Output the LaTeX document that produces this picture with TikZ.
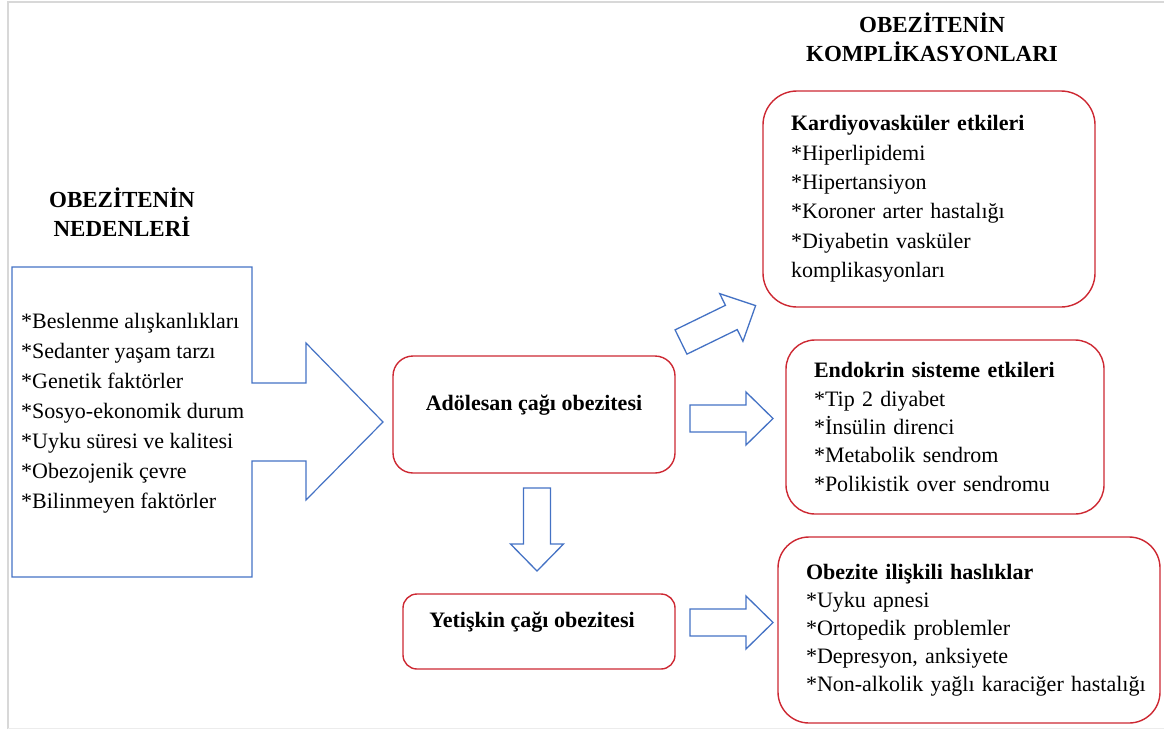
\documentclass[tikz,border=0pt]{standalone}
\usepackage{fontspec}
\setmainfont{Liberation Serif}
\definecolor{boxred}{RGB}{205,40,50}
\definecolor{arrowblue}{RGB}{68,114,196}
\definecolor{framegray}{RGB}{216,216,216}
\tikzset{
  pics/blockarrow/.style={code={
    \draw[arrowblue, line width=1.3pt, line join=miter]
      (0,-13.5) -- (56,-13.5) -- (56,-26.5) -- (83,0) -- (56,26.5) -- (56,13.5) -- (0,13.5) -- cycle;
  }}
}
\begin{document}
\begin{tikzpicture}[x=1pt, y=-1pt,
    heading/.style={font=\bfseries\fontsize{23}{29.5}\selectfont, align=center, inner sep=0pt, anchor=north},
    listtext/.style={font=\fontsize{22}{30}\selectfont, align=left, inner sep=0pt, anchor=north west},
    redbox/.style={draw=boxred, line width=1.4pt, align=left, inner ysep=0pt, inner xsep=28pt},
    stagebox/.style={draw=boxred, line width=1.4pt, font=\bfseries\fontsize{22}{26}\selectfont,
      text height=15pt, text depth=24pt, inner sep=0pt}]
    \useasboundingbox (0,0) rectangle (1164,729);
    % frame
    \draw[framegray, line width=2pt] (7.5,729) -- (7.5,1.5) -- (1164,1.5);
    \draw[framegray!50, line width=1pt] (7.5,728.5) -- (1164,728.5);

    % Headings
    \node[heading] (causeshead) at (122,186.3) {\strut OBEZİTENİN\\NEDENLERİ};
    \node[heading] (complhead) at (932,11.3) {\strut OBEZİTENİN\\KOMPLİKASYONLARI};

    % Causes (callout arrow)
    \draw[arrowblue, line width=1.2pt, line join=miter] (12,267) -- (252,267) -- (252,383) -- (306,383)
      -- (306,343) -- (383,422) -- (306,500) -- (306,461) -- (252,461) -- (252,577) -- (12,577) -- cycle;
    \node[listtext] (causes) at (21,307) {\strut*Beslenme alışkanlıkları\\{}*Sedanter yaşam tarzı\\{}*Genetik faktörler\\
      {}*Sosyo-ekonomik durum\\{}*Uyku süresi ve kalitesi\\{}*Obezojenik çevre\\{}*Bilinmeyen faktörler};

    % Stages
    \node[stagebox, rounded corners=20pt, minimum width=282pt, minimum height=117pt] (adol) at (534,414.5) {Adölesan çağı obezitesi};
    \node[stagebox, rounded corners=14pt, minimum width=272pt, minimum height=75pt] (adult) at (539,631.5) {Yetişkin çağı obezitesi\hspace*{14pt}};

    % Complications
    \node[redbox, rounded corners=34pt, minimum width=332pt, minimum height=216pt, text width=276pt,
      font=\fontsize{22}{29.4}\selectfont] (cardio) at (929,199)
      {\textbf{Kardiyovasküler etkileri}\\{}*Hiperlipidemi\\{}*Hipertansiyon\\{}*Koroner arter hastalığı\\{}*Diyabetin vasküler\\komplikasyonları};
    \node[redbox, rounded corners=29pt, minimum width=318pt, minimum height=174pt, text width=262pt,
      font=\fontsize{22}{28.3}\selectfont] (endo) at (945,427)
      {\textbf{Endokrin sisteme etkileri}\\{}*Tip 2 diyabet\\{}*İnsülin direnci\\{}*Metabolik sendrom\\{}*Polikistik over sendromu};
    \node[redbox, rounded corners=31pt, minimum width=382pt, minimum height=186pt, text width=326pt,
      font=\fontsize{22}{28}\selectfont] (related) at (969,630)
      {\textbf{Obezite ilişkili haslıklar}\\{}*Uyku apnesi\\{}*Ortopedik problemler\\{}*Depresyon, anksiyete\\\mbox{*Non-alkolik yağlı karaciğer hastalığı}};

    % Block arrows
    \pic[rotate=26] at (681,342) {blockarrow};
    \pic at (690,418.5) {blockarrow};
    \pic[rotate=-90] at (537,488) {blockarrow};
    \pic at (690,622.5) {blockarrow};
\end{tikzpicture}
\end{document}
